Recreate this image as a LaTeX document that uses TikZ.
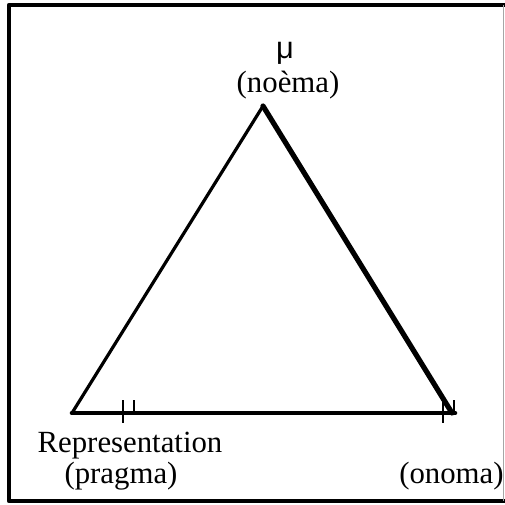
\documentclass[tikz,border=0pt]{standalone}
\usepackage{fontspec}
\setmainfont{Liberation Serif}
\newfontfamily\musans{Liberation Sans}
\usetikzlibrary{positioning}

\begin{document}
\begin{tikzpicture}[
  x=0.5pt, y=-0.5pt,
  font=\fontsize{15.4}{17}\selectfont,
  lbl/.style={inner sep=0pt,text height=8pt,text depth=2pt},
  frm/.style={line width=2.3pt,line join=round},
  side/.style={line cap=round,line join=round},
  tick/.style={line width=0.6pt},
]
\useasboundingbox (0,0) rectangle (505,505);

% --- frame ---------------------------------------------------------------
\draw[frm] (505,5) -- (9,5) -- (9,501) -- (505,501);
\draw[gray!70,line width=0.5pt] (503.5,5) -- (503.5,501);

% --- corners of the triangle ---------------------------------------------
\coordinate (top)   at (263,106);
\coordinate (left)  at (72,413);
\coordinate (right) at (452,413);
\coordinate (baseend) at (455,413);

% --- sides ---------------------------------------------------------------
\draw[side,line width=1.6pt] (left) -- (top);
\draw[side,line width=2.6pt] (top) -- (right);
\draw[side,line width=2.3pt] (left) -- (baseend);

% --- ticks on the base ---------------------------------------------------
\coordinate (t1a) at (123,400); \coordinate (t1b) at (123,423);
\coordinate (t2a) at (134,400); \coordinate (t2b) at (134,414);
\coordinate (t3a) at (443,401); \coordinate (t3b) at (443,423);
\coordinate (t4a) at (454,400); \coordinate (t4b) at (454,413);
\draw[tick] (t1a) -- (t1b);
\draw[tick] (t2a) -- (t2b);
\draw[tick] (t3a) -- (t3b);
\draw[tick] (t4a) -- (t4b);

% --- labels --------------------------------------------------------------
\node[lbl,anchor=base] (noema) at (288,92) {(noèma)};
\node[lbl,anchor=base] (mu)    at (285,58) {\musans μ};
\node[lbl,anchor=base] (repr)   at (130,452) {Representation};
\node[lbl,anchor=base] (pragma) at (121,483) {(pragma)};
\node[lbl,anchor=base east] (onoma) at (504,483) {(onoma)};
\end{tikzpicture}
\end{document}
